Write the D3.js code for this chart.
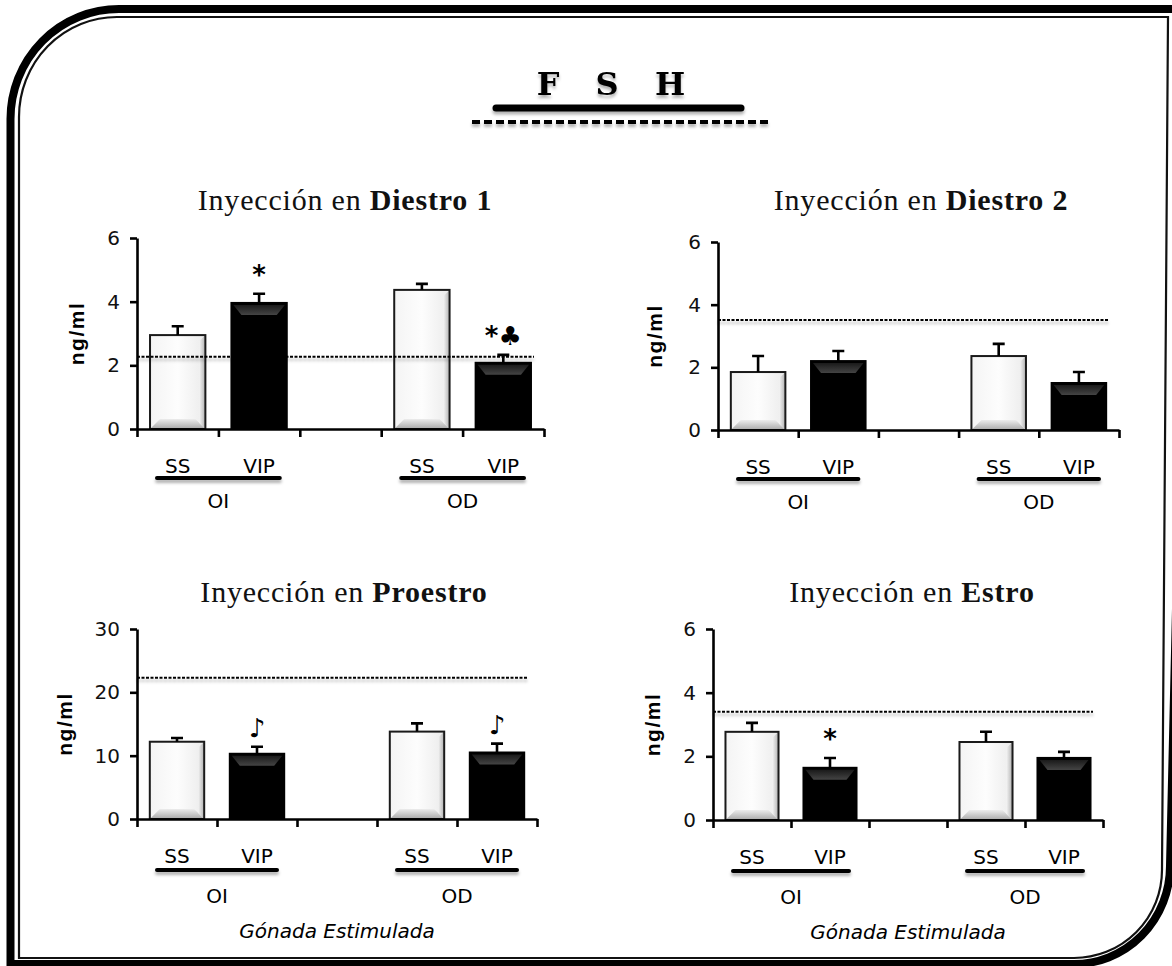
<!DOCTYPE html>
<html>
<head>
<meta charset="utf-8">
<script src="https://cdn.jsdelivr.net/npm/d3@7"></script>
<style>
body{margin:0;background:#fff;}
svg{display:block;}
.tick text{font-family:"DejaVu Sans",sans-serif;font-size:20px;fill:#111;}
</style>
</head>
<body>
<script>
//FSH levels after VIP / saline injection, four cycle stages
var titleLetters = ["F", "S", "H"];
var panelNames = ["Diestro 1", "Diestro 2", "Proestro", "Estro"];
var slots = ["SS-OI", "VIP-OI", "gap", "SS-OD", "VIP-OD"];
var barSlots = ["SS-OI", "VIP-OI", "SS-OD", "VIP-OD"];
var treatments = ["SS", "VIP", "SS", "VIP"];
var groups = ["OI", "OD"];

var meanD1 = [2.95, 3.96, 4.37, 2.08];
var semD1 = [0.28, 0.29, 0.19, 0.25];
var meanD2 = [1.85, 2.2, 2.36, 1.5];
var semD2 = [0.51, 0.32, 0.39, 0.35];
var meanPro = [12.2, 10.3, 13.8, 10.5];
var semPro = [0.6, 1.1, 1.3, 1.4];
var meanEst = [2.77, 1.64, 2.45, 1.95];
var semEst = [0.28, 0.31, 0.32, 0.19];

var marksD1 = ["", "*", "", "*\u2663"];
var marksD2 = ["", "", "", ""];
var marksPro = ["", "\u266A\uFE0E", "", "\u266A\uFE0E"];
var marksEst = ["", "*", "", ""];

var baselineLevels = [2.27, 3.51, 22.3, 3.4];
var yMaxes = [6, 6, 30, 6];
var yTickValues = [[0, 2, 4, 6], [0, 2, 4, 6], [0, 10, 20, 30], [0, 2, 4, 6]];
var yLabel = "ng/ml";
var footerLabel = "G\u00f3nada Estimulada";

var means = [meanD1, meanD2, meanPro, meanEst];
var sems = [semD1, semD2, semPro, semEst];
var marks = [marksD1, marksD2, marksPro, marksEst];

//panel frames on the page
var layout = [
	{x0:137, x1:544, yTop:238, yBot:429, titleX:345, titleY:210, labX:77, footer:false},
	{x0:718, x1:1119, yTop:242, yBot:430, titleX:921, titleY:210, labX:655, footer:false},
	{x0:137, x1:537, yTop:629, yBot:819, titleX:344, titleY:602, labX:65, footer:true},
	{x0:713, x1:1103, yTop:629, yBot:820, titleX:912, titleY:602, labX:653, footer:true}
];

var width = 1172, height = 966;

var svg = d3.select("body").append("svg")
	.attr("width", width)
	.attr("height", height);

var defs = svg.append("defs");

//shadow in page units so flat lines keep it
var shadow = defs.append("filter").attr("id", "shadow")
	.attr("filterUnits", "userSpaceOnUse")
	.attr("x", 0).attr("y", 0).attr("width", width).attr("height", height);
shadow.append("feDropShadow")
	.attr("dx", 0).attr("dy", 3).attr("stdDeviation", 1.8)
	.attr("flood-color", "#000").attr("flood-opacity", 0.3);

var gBottom = defs.append("linearGradient").attr("id", "bevelBottom")
	.attr("x1", 0).attr("y1", 0).attr("x2", 0).attr("y2", 1);
gBottom.append("stop").attr("offset", "0%").attr("stop-color", "#ececec");
gBottom.append("stop").attr("offset", "100%").attr("stop-color", "#a9a9a9");

var gRight = defs.append("linearGradient").attr("id", "bevelRight")
	.attr("x1", 0).attr("y1", 0).attr("x2", 1).attr("y2", 0);
gRight.append("stop").attr("offset", "0%").attr("stop-color", "#f2f2f2");
gRight.append("stop").attr("offset", "100%").attr("stop-color", "#b0b0b0");

var gFace = defs.append("linearGradient").attr("id", "faceWhite")
	.attr("x1", 0).attr("y1", 0).attr("x2", 1).attr("y2", 0);
gFace.append("stop").attr("offset", "0%").attr("stop-color", "#f4f4f4");
gFace.append("stop").attr("offset", "50%").attr("stop-color", "#fdfdfd");
gFace.append("stop").attr("offset", "100%").attr("stop-color", "#ebebeb");

var gTop = defs.append("linearGradient").attr("id", "bevelTopDark")
	.attr("x1", 0).attr("y1", 0).attr("x2", 0).attr("y2", 1);
gTop.append("stop").attr("offset", "0%").attr("stop-color", "#1a1a1a");
gTop.append("stop").attr("offset", "100%").attr("stop-color", "#444");

//frame with the two rounded corners
svg.append("path")
	.attr("d", "M10.5,964 L10.5,119 A108.5,110 0 0 1 119,9 L1190,9 L1170,866 A96,98 0 0 1 1073,964 Z")
	.attr("fill", "none").attr("stroke", "#000").attr("stroke-width", 8);
svg.append("path")
	.attr("d", "M19,958 L19,117 A98,100 0 0 1 117,17 L1168,17 L1162,870 A88,88 0 0 1 1074,958 Z")
	.attr("fill", "none").attr("stroke", "#111").attr("stroke-width", 2.2);

//main title
var letterX = [548, 607, 670];
svg.selectAll(".fshLetter")
	.data(titleLetters)
	.enter()
	.append("text")
	.attr("class", "fshLetter")
	.attr("x", function(d, i){ return letterX[i]; })
	.attr("y", 95)
	.attr("text-anchor", "middle")
	.style("font-family", "'DejaVu Serif', serif")
	.style("font-weight", "bold")
	.style("font-size", "32px")
	.attr("filter", "url(#shadow)")
	.text(function(d){ return d; });

svg.append("line")
	.attr("x1", 496).attr("x2", 741).attr("y1", 108).attr("y2", 108)
	.attr("stroke", "#000").attr("stroke-width", 7).attr("stroke-linecap", "round")
	.attr("filter", "url(#shadow)");
svg.append("line")
	.attr("x1", 472).attr("x2", 770).attr("y1", 122).attr("y2", 122)
	.attr("stroke", "#000").attr("stroke-width", 4)
	.attr("stroke-dasharray", "8,4")
	.attr("filter", "url(#shadow)");

//draw each panel
layout.forEach(function(L, p){
	drawPanel(L, p);
});

function drawPanel(L, p){
	var g = svg.append("g");

	var x = d3.scaleBand()
		.domain(slots)
		.range([L.x0, L.x1])
		.paddingInner(0.32)
		.paddingOuter(0.16);

	var xEdge = d3.scaleLinear()
		.domain([0, slots.length])
		.range([L.x0, L.x1]);

	var y = d3.scaleLinear()
		.domain([0, yMaxes[p]])
		.range([L.yBot, L.yTop]);

	var rows = barSlots.map(function(s, i){
		return {slot: s, mean: means[p][i], sem: sems[p][i], mark: marks[p][i], kind: treatments[i]};
	});

	//title
	var title = g.append("text")
		.attr("x", L.titleX)
		.attr("y", L.titleY)
		.attr("text-anchor", "middle")
		.style("font-family", "'Liberation Serif', serif")
		.style("font-size", "30px")
		.style("letter-spacing", "0.8px")
		.style("fill", "#111");
	title.append("tspan").text("Inyecci\u00f3n en ");
	title.append("tspan").style("font-weight", "bold").text(panelNames[p]);

	//bars
	var bw = x.bandwidth(), b = 10;
	rows.forEach(function(d){
		var bx = x(d.slot), by = y(d.mean), bh = y(0) - y(d.mean);
		if (d.kind == "SS"){
			g.append("rect").attr("x", bx).attr("y", by).attr("width", bw).attr("height", bh)
				.attr("fill", "url(#faceWhite)");
			g.append("polygon")
				.attr("points", [[bx, by + bh], [bx + bw, by + bh], [bx + bw - b, by + bh - b], [bx + b, by + bh - b]].join(" "))
				.attr("fill", "url(#bevelBottom)");
			g.append("polygon")
				.attr("points", [[bx + bw, by], [bx + bw, by + bh], [bx + bw - 6, by + bh - 6], [bx + bw - 6, by + 6]].join(" "))
				.attr("fill", "url(#bevelRight)");
			g.append("rect").attr("x", bx).attr("y", by).attr("width", bw).attr("height", bh)
				.attr("fill", "none").attr("stroke", "#1a1a1a").attr("stroke-width", 2);
		} else {
			g.append("rect").attr("x", bx).attr("y", by).attr("width", bw).attr("height", bh)
				.attr("fill", "#000");
			g.append("polygon")
				.attr("points", [[bx + 2, by + 2], [bx + bw - 2, by + 2], [bx + bw - b, by + b + 2], [bx + b, by + b + 2]].join(" "))
				.attr("fill", "url(#bevelTopDark)");
			g.append("rect").attr("x", bx).attr("y", by).attr("width", bw).attr("height", bh)
				.attr("fill", "none").attr("stroke", "#000").attr("stroke-width", 2);
		}
	});

	//error bars
	g.selectAll(".err")
		.data(rows)
		.enter()
		.append("path")
		.attr("class", "err")
		.attr("d", function(d){
			var cx = x(d.slot) + bw / 2, top = y(d.mean + d.sem);
			return "M" + cx + "," + y(d.mean) + "V" + top + "M" + (cx - 6) + "," + top + "H" + (cx + 6);
		})
		.attr("fill", "none").attr("stroke", "#000").attr("stroke-width", 2.6);

	//reference level
	g.append("line")
		.attr("x1", L.x0).attr("x2", L.x1 - 10)
		.attr("y1", y(baselineLevels[p])).attr("y2", y(baselineLevels[p]))
		.attr("stroke", "#000").attr("stroke-width", 2)
		.attr("stroke-dasharray", "3,1.5")
		.attr("filter", "url(#shadow)");

	//significance marks
	g.selectAll(".mark")
		.data(rows.filter(function(d){ return d.mark != ""; }))
		.enter()
		.append("text")
		.attr("class", "mark")
		.attr("x", function(d){ return x(d.slot) + bw / 2; })
		.attr("y", function(d){ return y(d.mean + d.sem) - 10; })
		.attr("text-anchor", "middle")
		.style("font-family", "'DejaVu Sans', sans-serif")
		.style("font-size", "26px")
		.style("font-weight", "bold")
		.style("fill", "#000")
		.text(function(d){ return d.mark; });

	//axes
	var yAxis = g.append("g")
		.attr("transform", "translate(" + L.x0 + ",0)")
		.call(d3.axisLeft(y).tickValues(yTickValues[p]).tickFormat(d3.format("d"))
			.tickSize(7).tickSizeOuter(0).tickPadding(10));
	var xAxis = g.append("g")
		.attr("transform", "translate(0," + L.yBot + ")")
		.call(d3.axisBottom(xEdge).tickValues(d3.range(0, slots.length + 1)).tickSize(8).tickSizeOuter(0).tickFormat(""));
	[yAxis, xAxis].forEach(function(a){
		a.select(".domain").attr("stroke", "#000").attr("stroke-width", 2.6);
		a.selectAll(".tick line").attr("stroke", "#000").attr("stroke-width", 2.6);
	});

	//y label
	g.append("text")
		.attr("transform", "translate(" + L.labX + "," + ((L.yTop + L.yBot) / 2) + ") rotate(-90)")
		.attr("text-anchor", "middle")
		.attr("dy", "0.35em")
		.style("font-family", "'Liberation Sans', Arial, sans-serif")
		.style("font-weight", "bold")
		.style("font-size", "21px")
		.style("letter-spacing", "1.5px")
		.text(yLabel);

	//treatment labels
	var off = L.footer ? [44, 51, 84] : [44, 49, 79];
	g.selectAll(".trt")
		.data(rows)
		.enter()
		.append("text")
		.attr("x", function(d){ return x(d.slot) + bw / 2; })
		.attr("y", L.yBot + off[0])
		.attr("text-anchor", "middle")
		.style("font-family", "'DejaVu Sans', sans-serif")
		.style("font-size", "20px")
		.text(function(d){ return d.kind; });

	//group underline and name
	groups.forEach(function(grp, k){
		var a = xEdge(k * 3) + 20, c = xEdge(k * 3 + 2) - 20;
		g.append("line")
			.attr("x1", a).attr("x2", c)
			.attr("y1", L.yBot + off[1]).attr("y2", L.yBot + off[1])
			.attr("stroke", "#000").attr("stroke-width", 4).attr("stroke-linecap", "round")
			.attr("filter", "url(#shadow)");
		g.append("text")
			.attr("x", (a + c) / 2)
			.attr("y", L.yBot + off[2])
			.attr("text-anchor", "middle")
			.style("font-family", "'DejaVu Sans', sans-serif")
			.style("font-size", "20px")
			.text(grp);
	});

	if (L.footer){
		g.append("text")
			.attr("x", (L.x0 + L.x1) / 2)
			.attr("y", L.yBot + 119)
			.attr("text-anchor", "middle")
			.style("font-family", "'DejaVu Sans', sans-serif")
			.style("font-style", "italic")
			.style("font-size", "20px")
			.text(footerLabel);
	}
}
</script>
</body>
</html>
